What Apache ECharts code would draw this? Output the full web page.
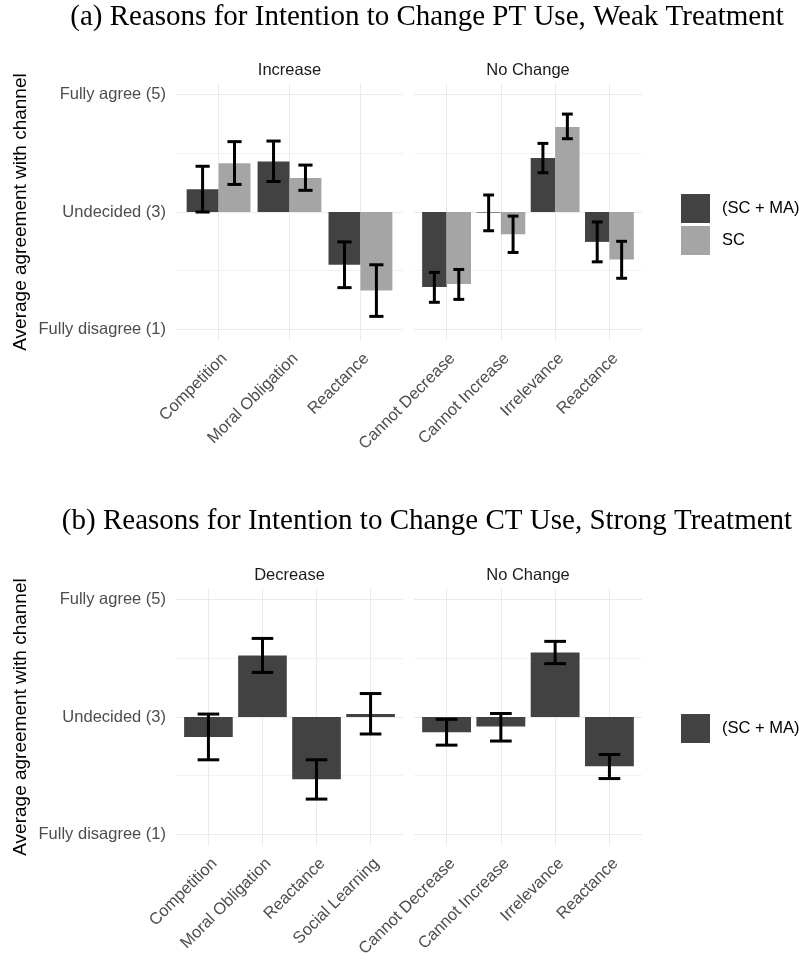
<!DOCTYPE html>
<html>
<head>
<meta charset="utf-8">
<script src="https://cdn.jsdelivr.net/npm/echarts@6/dist/echarts.min.js"></script>
<style>
  html, body { margin: 0; padding: 0; background: #ffffff; }
  #chart { width: 799px; height: 960px; }
</style>
</head>
<body>
<div id="chart"></div>
<script>
// ---- (a) PT use, weak treatment: means with 95% interval bounds ----
const weakIncreaseCats = ['Competition', 'Moral Obligation', 'Reactance'];
const weakIncreaseScMa = [3.39, 3.86, 2.10];
const weakIncreaseScMaLow = [3.00, 3.52, 1.71];
const weakIncreaseScMaHigh = [3.78, 4.21, 2.49];
const weakIncreaseSc = [3.83, 3.58, 1.66];
const weakIncreaseScLow = [3.47, 3.37, 1.22];
const weakIncreaseScHigh = [4.20, 3.80, 2.10];

const weakNoChangeCats = ['Cannot Decrease', 'Cannot Increase', 'Irrelevance', 'Reactance'];
const weakNoChangeScMa = [1.72, 2.99, 3.92, 2.49];
const weakNoChangeScMaLow = [1.46, 2.68, 3.67, 2.15];
const weakNoChangeScMaHigh = [1.97, 3.29, 4.17, 2.83];
const weakNoChangeSc = [1.77, 2.62, 4.45, 2.19];
const weakNoChangeScLow = [1.51, 2.31, 4.25, 1.87];
const weakNoChangeScHigh = [2.02, 2.93, 4.67, 2.50];

// ---- (b) CT use, strong treatment ----
const strongDecreaseCats = ['Competition', 'Moral Obligation', 'Reactance', 'Social Learning'];
const strongDecreaseScMa = [2.66, 4.05, 1.94, 3.05];
const strongDecreaseScMaLow = [2.27, 3.76, 1.60, 2.71];
const strongDecreaseScMaHigh = [3.05, 4.34, 2.27, 3.40];

const strongNoChangeCats = ['Cannot Decrease', 'Cannot Increase', 'Irrelevance', 'Reactance'];
const strongNoChangeScMa = [2.74, 2.84, 4.10, 2.16];
const strongNoChangeScMaLow = [2.52, 2.59, 3.91, 1.95];
const strongNoChangeScMaHigh = [2.96, 3.06, 4.29, 2.36];

const yTickLabels = { 1: 'Fully disagree (1)', 3: 'Undecided (3)', 5: 'Fully agree (5)' };
const seriesNames = ['(SC + MA)', 'SC'];
const titles = [
  '(a) Reasons for Intention to Change PT Use, Weak Treatment',
  '(b) Reasons for Intention to Change CT Use, Strong Treatment'
];
const facetNames = [['Increase', 'No Change'], ['Decrease', 'No Change']];

const DARK = '#424242';
const LIGHT = '#a5a5a5';
const GRID_MAJOR = '#ebebeb';
const GRID_MINOR = '#f2f2f2';
const SANS = '"Liberation Sans", Arial, sans-serif';
const NONE = 'rgba(0,0,0,0)';
const BASELINE = 3; // bars grow from "Undecided"

// Panel geometry (px)
const panelLeft = [176, 414];
const panelWidth = [227, 228];
const panelTop = [83, 588];
const panelHeight = 258;

function pts(vals) { return vals.map((v, i) => [i + 1, v]); }
function errPts(lo, hi) { return lo.map((l, i) => [i + 1, l, hi[i]]); }
function isWhole(v) { return Math.abs(v - Math.round(v)) < 1e-6; }

function barRenderer(offset, half) {
  return function (params, api) {
    const x = api.value(0);
    const p0 = api.coord([x + offset - half, BASELINE]);
    const p1 = api.coord([x + offset + half, api.value(1)]);
    return {
      type: 'rect',
      shape: {
        x: p0[0], y: Math.min(p0[1], p1[1]),
        width: p1[0] - p0[0], height: Math.abs(p1[1] - p0[1])
      },
      style: api.style()
    };
  };
}

function errRenderer(offset, capHalf) {
  return function (params, api) {
    const x = api.value(0) + offset;
    const lo = api.coord([x, api.value(1)]);
    const hi = api.coord([x, api.value(2)]);
    const l = api.coord([x - capHalf, api.value(1)])[0];
    const r = api.coord([x + capHalf, api.value(1)])[0];
    const st = { stroke: '#000000', lineWidth: 3, fill: null };
    return {
      type: 'group',
      children: [
        { type: 'line', shape: { x1: lo[0], y1: lo[1], x2: hi[0], y2: hi[1] }, style: st },
        { type: 'line', shape: { x1: l, y1: lo[1], x2: r, y2: lo[1] }, style: st },
        { type: 'line', shape: { x1: l, y1: hi[1], x2: r, y2: hi[1] }, style: st }
      ]
    };
  };
}

function barSeries(name, gridIdx, vals, color, offset, half) {
  return {
    type: 'custom', name: name,
    xAxisIndex: gridIdx, yAxisIndex: gridIdx,
    itemStyle: { color: color },
    encode: { x: 0, y: 1 },
    renderItem: barRenderer(offset, half),
    data: pts(vals),
    z: 2
  };
}

function errSeries(gridIdx, lo, hi, offset, capHalf) {
  return {
    type: 'custom', name: 'interval',
    xAxisIndex: gridIdx, yAxisIndex: gridIdx,
    encode: { x: 0, y: [1, 2] },
    renderItem: errRenderer(offset, capHalf),
    data: errPts(lo, hi),
    z: 3
  };
}

const panelCats = [weakIncreaseCats, weakNoChangeCats, strongDecreaseCats, strongNoChangeCats];

const grids = [];
const xAxes = [];
const yAxes = [];
for (let g = 0; g < 4; g++) {
  const row = Math.floor(g / 2);
  const col = g % 2;
  const cats = panelCats[g];
  grids.push({
    left: panelLeft[col], top: panelTop[row],
    width: panelWidth[col], height: panelHeight,
    containLabel: false
  });
  xAxes.push({
    type: 'value', gridIndex: g,
    min: 0.4, max: cats.length + 0.6, interval: 0.2,
    axisLine: { show: false }, axisTick: { show: false },
    splitLine: {
      show: true,
      lineStyle: { color: [NONE, NONE, NONE, GRID_MAJOR, NONE], width: 1 }
    },
    axisLabel: {
      rotate: 45, margin: 9, verticalAlign: 'top',
      color: '#4d4d4d', fontFamily: SANS, fontSize: 16.5,
      formatter: function (v) { return isWhole(v) ? (cats[Math.round(v) - 1] || '') : ''; }
    }
  });
  yAxes.push({
    type: 'value', gridIndex: g,
    min: 0.8, max: 5.2, interval: 0.2,
    axisLine: { show: false }, axisTick: { show: false },
    splitLine: {
      show: true,
      lineStyle: {
        color: [NONE, GRID_MAJOR, NONE, NONE, NONE, NONE, GRID_MINOR, NONE, NONE, NONE],
        width: 1
      }
    },
    axisLabel: {
      show: col === 0, margin: 10,
      color: '#4d4d4d', fontFamily: SANS, fontSize: 16.5,
      formatter: function (v) { return isWhole(v) ? (yTickLabels[Math.round(v)] || '') : ''; }
    },
    name: col === 0 ? 'Average agreement with channel' : '',
    nameLocation: 'middle', nameRotate: 90, nameGap: 146,
    nameTextStyle: { color: '#000000', fontFamily: SANS, fontSize: 19 }
  });
}

const series = [
  // (a) left facet, dodged pairs
  barSeries(seriesNames[0], 0, weakIncreaseScMa, DARK, -0.225, 0.225),
  barSeries(seriesNames[1], 0, weakIncreaseSc, LIGHT, 0.225, 0.225),
  errSeries(0, weakIncreaseScMaLow, weakIncreaseScMaHigh, -0.225, 0.1),
  errSeries(0, weakIncreaseScLow, weakIncreaseScHigh, 0.225, 0.1),
  // (a) right facet
  barSeries(seriesNames[0], 1, weakNoChangeScMa, DARK, -0.225, 0.225),
  barSeries(seriesNames[1], 1, weakNoChangeSc, LIGHT, 0.225, 0.225),
  errSeries(1, weakNoChangeScMaLow, weakNoChangeScMaHigh, -0.225, 0.1),
  errSeries(1, weakNoChangeScLow, weakNoChangeScHigh, 0.225, 0.1),
  // (b) left facet, single group
  barSeries(seriesNames[0], 2, strongDecreaseScMa, DARK, 0, 0.45),
  errSeries(2, strongDecreaseScMaLow, strongDecreaseScMaHigh, 0, 0.2),
  // (b) right facet
  barSeries(seriesNames[0], 3, strongNoChangeScMa, DARK, 0, 0.45),
  errSeries(3, strongNoChangeScMaLow, strongNoChangeScMaHigh, 0, 0.2)
];

const legendText = { color: '#000000', fontFamily: SANS, fontSize: 16.5, padding: [0, 0, 0, 7] };

const graphics = [];
titles.forEach(function (t, i) {
  graphics.push({
    type: 'text', x: 427, y: i === 0 ? 17 : 521,
    style: {
      text: t, textAlign: 'center', textVerticalAlign: 'middle',
      font: '29px "Liberation Serif", "Times New Roman", serif', fill: '#000000'
    }
  });
});
for (let r = 0; r < 2; r++) {
  for (let c = 0; c < 2; c++) {
    graphics.push({
      type: 'text',
      x: panelLeft[c] + panelWidth[c] / 2, y: panelTop[r] - 13,
      style: {
        text: facetNames[r][c], textAlign: 'center', textVerticalAlign: 'middle',
        font: '16.5px ' + SANS, fill: '#1a1a1a'
      }
    });
  }
}

const chart = echarts.init(document.getElementById('chart'), null, { renderer: 'canvas' });
chart.setOption({
  animation: false,
  backgroundColor: '#ffffff',
  grid: grids,
  xAxis: xAxes,
  yAxis: yAxes,
  legend: [
    {
      data: seriesNames, orient: 'vertical', left: 676, top: 189,
      icon: 'rect', itemWidth: 29, itemHeight: 29, itemGap: 3,
      selectedMode: false, textStyle: legendText
    },
    {
      data: [seriesNames[0]], orient: 'vertical', left: 676, top: 709,
      icon: 'rect', itemWidth: 29, itemHeight: 29, itemGap: 3,
      selectedMode: false, textStyle: legendText
    }
  ],
  graphic: graphics,
  series: series
});
</script>
</body>
</html>
